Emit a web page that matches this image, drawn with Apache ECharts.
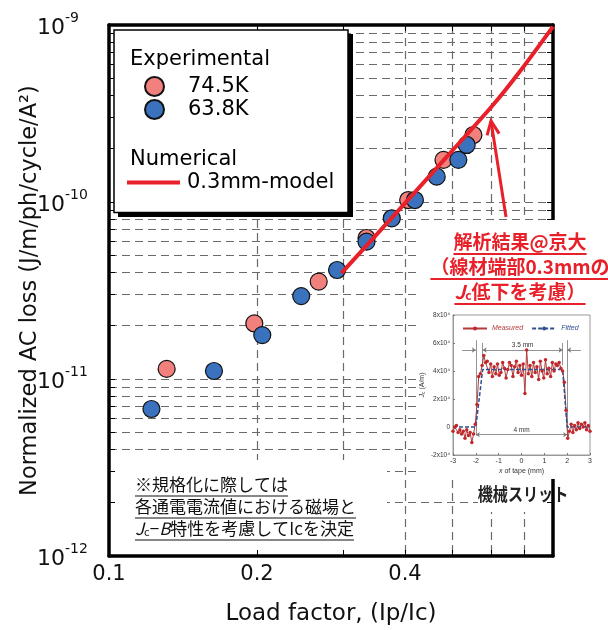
<!DOCTYPE html>
<html><head><meta charset="utf-8">
<script src="https://cdn.jsdelivr.net/npm/echarts@6/dist/echarts.min.js"></script>
<style>html,body{margin:0;padding:0;background:#fff}#c{width:608px;height:630px}</style>
</head><body><div id="c"></div>
<script>
// ---------------- data ----------------
const exp745X = [0.131, 0.1975, 0.267, 0.334, 0.406, 0.479, 0.551];
const exp745Y = [1.14e-11, 2.06e-11, 3.55e-11, 6.26e-11, 1.026e-10, 1.73e-10, 2.39e-10];
const exp638X = [0.122, 0.1635, 0.205, 0.246, 0.291, 0.334, 0.376, 0.419, 0.464, 0.5135, 0.534];
const exp638Y = [6.77e-12, 1.11e-11, 1.77e-11, 2.94e-11, 4.13e-11, 5.97e-11, 8.09e-11, 1.026e-10, 1.39e-10, 1.73e-10, 2.10e-10];
const modelX = [0.297, 0.391, 0.494, 0.604, 0.6855, 0.8];
const modelY = [3.96e-11, 9.18e-11, 1.889e-10, 3.53e-10, 5.48e-10, 9.8e-10];
const xGridValues = [0.2, 0.3, 0.4, 0.5, 0.6, 0.7];
const xLabelValues = [0.1, 0.2, 0.4];
const yDecades = [-12, -11, -10, -9];
const yMultipliers = [1, 2, 3, 4, 5, 6, 7, 8, 9];
// inset: Jc distribution (x10^4 A/m) vs x of tape (mm)
const insetX = [-3.000,-2.925,-2.850,-2.775,-2.700,-2.625,-2.550,-2.475,-2.400,-2.325,-2.250,-2.175,-2.100,-2.025,
  -1.950,-1.875,-1.800,-1.725,-1.650,-1.575,-1.500,-1.425,-1.350,-1.275,-1.200,-1.125,-1.050,-0.975,-0.900,-0.825,
  -0.750,-0.675,-0.600,-0.525,-0.450,-0.375,-0.300,-0.225,-0.150,-0.075,0.000,0.075,0.150,0.225,0.300,0.375,0.450,
  0.525,0.600,0.675,0.750,0.825,0.900,0.975,1.050,1.125,1.200,1.275,1.350,1.425,1.500,1.575,1.650,1.725,1.800,1.875,
  1.950,2.025,2.100,2.175,2.250,2.325,2.400,2.475,2.550,2.625,2.700,2.775,2.850,2.925,3.000];
const insetMeasured = [-0.3,0.0,0.1,-0.4,-0.2,-0.5,-0.3,-0.8,-0.2,-0.6,-0.4,-1.1,-0.5,0.2,
  1.6,3.6,3.8,4.4,5.1,4.6,4.7,3.9,4.5,3.6,4.3,3.8,4.5,3.7,3.9,4.6,
  4.2,3.5,4.1,4.6,4.4,3.6,4.3,4.7,3.9,4.4,3.7,4.5,2.4,5.5,3.8,4.4,3.6,
  4.6,3.9,4.3,3.4,4.7,4.0,3.5,4.8,3.8,4.2,3.6,4.6,4.0,4.5,4.4,4.6,4.2,4.0,3.2,
  1.2,-0.8,-0.3,0.2,-0.4,0.1,-0.2,0.3,-0.1,0.2,0.0,0.3,-0.2,0.1,-0.3];
const fittedX = [-3, -2.0, -1.7, 1.8, 2.0, 3];
const fittedY = [0, 0, 4.1, 4.1, 0, 0];

// ---------------- helpers ----------------
const L = v => Math.log10(v);
const zip = (xs, ys, fx, fy) => xs.map((x, i) => [fx(x), fy(ys[i])]);
const ident = v => v;
const yGridValues = [];
yDecades.slice(0, 3).forEach(d => yMultipliers.forEach(k => yGridValues.push(d + L(k))));
yGridValues.push(-9);
const mctx = document.createElement('canvas').getContext('2d');
function tw(font, text) { mctx.font = font; return mctx.measureText(text).width; }

const MAINF = 'DejaVu Sans';
const JPF = '"Noto Sans CJK JP", "Noto Sans CJK SC", sans-serif';
const RED = '#E8202A';

const xMin = -1, xMax = L(0.8), yMin = -12, yMax = -9;
const gridLine = { color: '#6a6a6a', width: 1.2, type: [8, 5] };

const chart = echarts.init(document.getElementById('c'), null, { renderer: 'canvas' });

// underline geometry
const noteFont = '17px ' + JPF;
const noteX = 135, noteY = [485, 507, 529];
const noteW = [
  tw(noteFont, '※規格化に際しては'),
  tw(noteFont, '各通電電流値における磁場と'),
  tw('italic ' + noteFont, 'J') + tw('11px ' + JPF, 'c') + tw(noteFont, '−') + tw('italic ' + noteFont, 'B') + tw(noteFont, '特性を考慮してIcを決定')
];
const redFont = 'bold 19px ' + JPF;
const redCX = 520, redY = [242, 267, 292];
const redW = [
  tw(redFont, '解析結果@京大'),
  tw(redFont, '（線材端部0.3mmの'),
  tw('italic ' + redFont, 'J') + tw('bold 12px ' + JPF, 'c') + tw(redFont, '低下を考慮）')
];

// arrow
const aFrom = [506, 217], aTo = [491, 121];
const ang = Math.atan2(aFrom[1] - aTo[1], aFrom[0] - aTo[0]);
const hl = 15, ha = 0.42;
const head = [
  [aTo[0] + hl * Math.cos(ang - ha), aTo[1] + hl * Math.sin(ang - ha)],
  aTo,
  [aTo[0] + hl * Math.cos(ang + ha), aTo[1] + hl * Math.sin(ang + ha)]
];

const graphics = [
  { type: 'rect', z: 1, silent: true, shape: { x: 111, y: 460, width: 276, height: 94 }, style: { fill: '#fff' } },
  { type: 'rect', z: 1, silent: true, shape: { x: 478, y: 480, width: 74, height: 32 }, style: { fill: '#fff' } },
  { type: 'rect', z: 5, silent: true, shape: { x: 418, y: 220, width: 190, height: 259 }, style: { fill: '#fff' } },
  // legend box
  { type: 'rect', z: 6, silent: true, shape: { x: 118, y: 34, width: 235, height: 183 }, style: { fill: '#000' } },
  { type: 'rect', z: 6, silent: true, shape: { x: 114, y: 30, width: 234, height: 182.5 }, style: { fill: '#fff', stroke: '#000', lineWidth: 1.5 } },
  { type: 'text', z: 7, silent: true, x: 130, y: 60, style: { text: 'Experimental', fontSize: 21, fontFamily: MAINF, fill: '#000', textVerticalAlign: 'middle' } },
  { type: 'text', z: 7, silent: true, x: 130, y: 160, style: { text: 'Numerical', fontSize: 21, fontFamily: MAINF, fill: '#000', textVerticalAlign: 'middle' } },
  // red annotation
  { type: 'line', z: 9, silent: true, shape: { x1: aFrom[0], y1: aFrom[1], x2: aTo[0], y2: aTo[1] }, style: { stroke: RED, lineWidth: 3 } },
  { type: 'polyline', z: 9, silent: true, shape: { points: head }, style: { stroke: RED, lineWidth: 3, fill: null } },
  { type: 'text', z: 9, silent: true, x: redCX, y: redY[0], style: { text: '解析結果@京大', font: redFont, fill: RED, textAlign: 'center', textVerticalAlign: 'middle' } },
  { type: 'text', z: 9, silent: true, x: redCX, y: redY[1], style: { text: '（線材端部0.3mmの', font: redFont, fill: RED, textAlign: 'center', textVerticalAlign: 'middle' } },
  { type: 'text', z: 9, silent: true, x: redCX, y: redY[2], style: {
      text: '{i|J}{s|c}{n|低下を考慮）}', textAlign: 'center', textVerticalAlign: 'middle',
      rich: {
        i: { fontSize: 19, fontWeight: 'bold', fontStyle: 'italic', fontFamily: JPF, fill: RED },
        s: { fontSize: 12, fontWeight: 'bold', fontFamily: JPF, fill: RED, verticalAlign: 'bottom' },
        n: { fontSize: 19, fontWeight: 'bold', fontFamily: JPF, fill: RED }
      } } },
  // note text
  { type: 'text', z: 9, silent: true, x: noteX, y: noteY[0], style: { text: '※規格化に際しては', font: noteFont, fill: '#111', textVerticalAlign: 'middle' } },
  { type: 'text', z: 9, silent: true, x: noteX, y: noteY[1], style: { text: '各通電電流値における磁場と', font: noteFont, fill: '#111', textVerticalAlign: 'middle' } },
  { type: 'text', z: 9, silent: true, x: noteX, y: noteY[2], style: {
      text: '{i|J}{s|c}{n|−}{i|B}{n|特性を考慮してIcを決定}', textVerticalAlign: 'middle',
      rich: {
        i: { fontSize: 17, fontStyle: 'italic', fontFamily: JPF, fill: '#111' },
        s: { fontSize: 11, fontFamily: JPF, fill: '#111', verticalAlign: 'bottom' },
        n: { fontSize: 17, fontFamily: JPF, fill: '#111' }
      } } },
  // 機械スリット
  { type: 'text', z: 9, silent: true, x: 523, y: 494, scaleX: 0.84, originX: 0, originY: 0,
    style: { text: '機械スリット', font: 'bold 18px ' + JPF, fill: '#222', textAlign: 'center', textVerticalAlign: 'middle' } }
];
noteY.forEach((y, i) => graphics.push({ type: 'line', z: 9, silent: true, shape: { x1: noteX, y1: y + 11, x2: noteX + noteW[i], y2: y + 11 }, style: { stroke: '#111', lineWidth: 1 } }));
redY.forEach((y, i) => graphics.push({ type: 'line', z: 9, silent: true, shape: { x1: redCX - redW[i] / 2, y1: y + 12, x2: redCX + redW[i] / 2, y2: y + 12 }, style: { stroke: RED, lineWidth: 2 } }));

const frameLine = { show: true, onZero: false, lineStyle: { color: '#000', width: 3.5 } };
const frameTick = { show: true, inside: true, length: 6, lineStyle: { color: '#000', width: 1 } };

const option = {
  animation: false,
  backgroundColor: '#fff',
  grid: [
    { left: 109, top: 25, right: 55, bottom: 74, containLabel: false, outerBoundsMode: 'none' },
    { left: 453, top: 315, width: 137, height: 140, show: true, borderColor: '#9a9a9a', borderWidth: 1, backgroundColor: 'transparent', z: 8, containLabel: false, outerBoundsMode: 'none' }
  ],
  xAxis: [
    { type: 'value', gridIndex: 0, position: 'bottom', min: xMin, max: xMax, z: 0,
      axisLine: { show: false }, axisLabel: { show: false },
      axisTick: { show: false, customValues: xGridValues.map(L) },
      splitLine: { show: true, lineStyle: gridLine } },
    { type: 'value', gridIndex: 0, position: 'bottom', min: xMin, max: xMax, z: 2,
      axisLine: frameLine, axisTick: Object.assign({ customValues: xGridValues.map(L) }, frameTick),
      axisLabel: { customValues: xLabelValues.map(L), formatter: v => Math.pow(10, v).toFixed(1), fontSize: 21, fontFamily: MAINF, color: '#111', margin: 8 },
      splitLine: { show: false },
      name: 'Load factor, (Ip/Ic)', nameLocation: 'middle', nameGap: 47, nameMoveOverlap: false,
      nameTextStyle: { fontSize: 23, fontFamily: MAINF, color: '#111' } },
    { type: 'value', gridIndex: 0, position: 'top', min: xMin, max: xMax, z: 2,
      axisLine: frameLine, axisTick: Object.assign({ customValues: xGridValues.map(L) }, frameTick),
      axisLabel: { show: false }, splitLine: { show: false } },
    { type: 'value', gridIndex: 1, min: -3, max: 3, interval: 1, z: 8,
      axisLine: { show: true, onZero: false, lineStyle: { color: '#9a9a9a', width: 1 } },
      axisTick: { show: true, inside: true, length: 2, lineStyle: { color: '#777' } },
      axisLabel: { fontSize: 7, fontFamily: 'Liberation Sans', color: '#333', margin: 3 },
      splitLine: { show: false },
      name: '{i|x} of tape (mm)', nameLocation: 'middle', nameGap: 13, nameMoveOverlap: false,
      nameTextStyle: { fontSize: 7, fontFamily: 'Liberation Sans', color: '#333', rich: { i: { fontSize: 7, fontStyle: 'italic', color: '#333' } } } }
  ],
  yAxis: [
    { type: 'value', gridIndex: 0, position: 'left', min: yMin, max: yMax, z: 0,
      axisLine: { show: false }, axisLabel: { show: false },
      axisTick: { show: false, customValues: yGridValues },
      splitLine: { show: true, lineStyle: gridLine } },
    { type: 'value', gridIndex: 0, position: 'left', min: yMin, max: yMax, z: 2,
      axisLine: frameLine, axisTick: Object.assign({ customValues: yGridValues }, frameTick),
      axisLabel: { customValues: yDecades, margin: 72, align: 'left', formatter: v => '{b|10}{s|' + v + '}',
        rich: {
          b: { fontSize: 22, fontFamily: MAINF, color: '#111', lineHeight: 28, verticalAlign: 'bottom' },
          s: { fontSize: 14, fontFamily: MAINF, color: '#111', lineHeight: 15, verticalAlign: 'top' }
        } },
      splitLine: { show: false },
      name: 'Normalized AC loss (J/m/ph/cycle/A²)', nameLocation: 'middle', nameGap: 67, nameMoveOverlap: false,
      nameTextStyle: { fontSize: 22.5, fontFamily: MAINF, color: '#111' } },
    { type: 'value', gridIndex: 0, position: 'right', min: yMin, max: yMax, z: 2,
      axisLine: frameLine, axisTick: Object.assign({ customValues: yGridValues }, frameTick),
      axisLabel: { show: false }, splitLine: { show: false } },
    { type: 'value', gridIndex: 1, min: -2, max: 8, interval: 2, z: 8,
      axisLine: { show: true, onZero: false, lineStyle: { color: '#9a9a9a', width: 1 } },
      axisTick: { show: true, inside: true, length: 2, lineStyle: { color: '#777' } },
      axisLabel: { fontSize: 6.5, fontFamily: 'Liberation Sans', color: '#333', margin: 3,
        formatter: v => v === 0 ? '0' : v + 'x10⁴' },
      splitLine: { show: false },
      name: '{i|J}{s|c} (A/m)', nameLocation: 'middle', nameGap: 27, nameMoveOverlap: false,
      nameTextStyle: { fontSize: 7, fontFamily: 'Liberation Sans', color: '#333',
        rich: { i: { fontSize: 7, fontStyle: 'italic', color: '#333' }, s: { fontSize: 5, color: '#333', verticalAlign: 'bottom' } } } }
  ],
  legend: [
    { data: ['74.5K', '63.8K'], orient: 'vertical', left: 144, top: 76, padding: 0,
      itemWidth: 19, itemHeight: 19, itemGap: 2, z: 8, selectedMode: false,
      textStyle: { fontSize: 21, fontFamily: MAINF, color: '#000', padding: [0, 0, 0, 19] } },
    { data: [{ name: '0.3mm-model', icon: 'rect' }], left: 127, top: 172, padding: 0,
      itemWidth: 53, itemHeight: 4, z: 8, selectedMode: false,
      textStyle: { fontSize: 21, fontFamily: MAINF, color: '#000', padding: [0, 0, 0, 2] } },
    { data: [{ name: 'Measured', textStyle: { color: '#b23a3a' } }, { name: 'Fitted', textStyle: { color: '#2f4f8f' } }],
      left: 462, top: 325, padding: 0, itemWidth: 24, itemHeight: 5, itemGap: 8, z: 10, selectedMode: false,
      textStyle: { fontSize: 7, fontFamily: 'Liberation Sans', fontStyle: 'italic' } }
  ],
  graphic: graphics,
  series: [
    { name: '74.5K', type: 'scatter', xAxisIndex: 0, yAxisIndex: 0, z: 3,
      data: zip(exp745X, exp745Y, L, L), symbol: 'circle', symbolSize: 17,
      itemStyle: { color: '#F2807D', borderColor: '#111', borderWidth: 1.2, opacity: 1 } },
    { name: '63.8K', type: 'scatter', xAxisIndex: 0, yAxisIndex: 0, z: 3,
      data: zip(exp638X, exp638Y, L, L), symbol: 'circle', symbolSize: 17,
      itemStyle: { color: '#3A72BD', borderColor: '#111', borderWidth: 1.2, opacity: 1 } },
    { name: '0.3mm-model', type: 'line', xAxisIndex: 0, yAxisIndex: 0, z: 4,
      data: zip(modelX, modelY, L, L), smooth: 0.3, showSymbol: false, symbol: 'none',
      color: RED, lineStyle: { color: RED, width: 4 }, itemStyle: { color: RED } },
    { name: 'Measured', type: 'line', xAxisIndex: 3, yAxisIndex: 3, z: 9,
      data: zip(insetX, insetMeasured, ident, ident), symbol: 'circle', symbolSize: 3.5, showSymbol: true,
      color: '#c0282b', lineStyle: { color: '#b23a3a', width: 1 }, itemStyle: { color: '#c0282b' } },
    { name: 'Fitted', type: 'line', xAxisIndex: 3, yAxisIndex: 3, z: 9,
      data: zip(fittedX, fittedY, ident, ident), showSymbol: false, symbol: 'none',
      color: '#2f4f8f', lineStyle: { color: '#2f4f8f', width: 1.5, type: [4, 2] },
      markLine: { silent: true, symbol: 'none', animation: false,
        lineStyle: { color: '#777', width: 0.8, type: 'solid' },
        label: { fontSize: 6.5, fontFamily: 'Liberation Sans', color: '#333', position: 'middle', distance: 1 },
        data: [
          [{ coord: [-1.7, 5.5], symbol: 'arrow', symbolSize: 4 }, { coord: [1.8, 5.5], symbol: 'arrow', symbolSize: 4, label: { formatter: '3.5 mm' } }],
          [{ coord: [-2.0, -0.55], symbol: 'arrow', symbolSize: 4 }, { coord: [2.0, -0.55], symbol: 'arrow', symbolSize: 4, label: { formatter: '4 mm' } }],
          [{ coord: [-2.6, 5.5] }, { coord: [-2.0, 5.5], symbol: 'arrow', symbolSize: 4, label: { show: false } }],
          [{ coord: [2.6, 5.5] }, { coord: [2.0, 5.5], symbol: 'arrow', symbolSize: 4, label: { show: false } }],
          [{ coord: [-2.0, 6.2] }, { coord: [-2.0, -0.6], label: { show: false } }],
          [{ coord: [2.0, 6.2] }, { coord: [2.0, -0.6], label: { show: false } }],
          [{ coord: [-1.7, 6.0] }, { coord: [-1.7, 4.4], label: { show: false } }],
          [{ coord: [1.8, 6.0] }, { coord: [1.8, 4.4], label: { show: false } }],
          [{ coord: [-2.45, 6.3] }, { coord: [-1.6, 6.3], lineStyle: { opacity: 0 }, label: { formatter: '0.3 mm' } }],
          [{ coord: [1.95, 6.3] }, { coord: [2.75, 6.3], lineStyle: { opacity: 0 }, label: { formatter: '0.2 mm' } }]
        ] } }
  ]
};
chart.setOption(option);
</script></body></html>
